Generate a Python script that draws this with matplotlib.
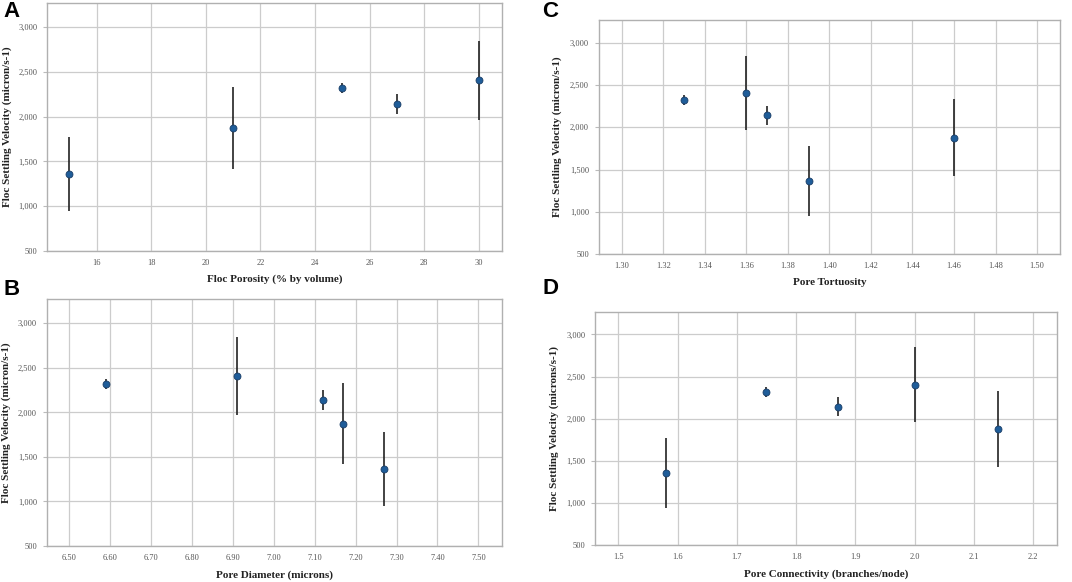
import matplotlib.pyplot as plt
from matplotlib.ticker import FuncFormatter, MultipleLocator

# settling velocity (micron/s) and its error, per floc sample
velocity = [1360, 1875, 2320, 2140, 2405]
velocity_err = [415, 455, 58, 112, 440]

porosity = [15, 21, 25, 27, 30]
diameter = [7.27, 7.17, 6.59, 7.12, 6.91]
tortuosity = [1.39, 1.46, 1.33, 1.37, 1.36]
connectivity = [1.58, 2.14, 1.75, 1.87, 2.00]

panels = [
    # letter, x data, xlabel, ylabel, xlim, xtick step, xtick format, axes rect, label coords
    ("A", porosity, "Floc Porosity (% by volume)",
     "Floc Settling Velocity (micron/s-1)", (14.18, 30.85), 2, "{:.0f}",
     [0.0438, 0.5687, 0.4244, 0.4261], (-0.088, -0.113)),
    ("B", diameter, "Pore Diameter (microns)",
     "Floc Settling Velocity (micron/s-1)", (6.445, 7.557), 0.1, "{:.2f}",
     [0.0436, 0.0619, 0.4244, 0.4239], (-0.089, -0.118)),
    ("C", tortuosity, "Pore Tortuosity",
     "Floc Settling Velocity (micron/s-1)", (1.289, 1.511), 0.02, "{:.2f}",
     [0.5585, 0.5636, 0.4303, 0.4021], (-0.091, -0.123)),
    ("D", connectivity, "Pore Connectivity (branches/node)",
     "Floc Settling Velocity (microns/s-1)", (1.4607, 2.2395), 0.1, "{:.1f}",
     [0.5550, 0.0636, 0.4307, 0.4009], (-0.089, -0.124)),
]

serif = ["Liberation Serif", "DejaVu Serif"]

fig = plt.figure(figsize=(10.72, 5.82), dpi=100)

for letter, xs, xlabel, ylabel, xlim, step, fmt, rect, lc in panels:
    ax = fig.add_axes(rect)
    ax.errorbar(xs, velocity, yerr=velocity_err, fmt="o", color="#1f5d99",
                markersize=5, markeredgecolor="#1a3d66", markeredgewidth=0.6,
                ecolor="#222222", elinewidth=1.2, capsize=0, zorder=3)
    ax.set_xlim(*xlim)
    ax.set_ylim(500, 3270)
    ax.xaxis.set_major_locator(MultipleLocator(step))
    ax.yaxis.set_major_locator(MultipleLocator(500))
    ax.xaxis.set_major_formatter(FuncFormatter(lambda v, p, f=fmt: f.format(v)))
    ax.yaxis.set_major_formatter(FuncFormatter(lambda v, p: f"{v:,.0f}"))
    ax.grid(True, color="#cccccc", linewidth=0.9)
    ax.set_axisbelow(True)
    for s in ax.spines.values():
        s.set_color("#b0b0b0")
        s.set_linewidth(1.0)
    ax.tick_params(axis="both", labelsize=6, colors="#bbbbbb",
                   labelcolor="#555555", length=3, width=0.8, pad=4)
    ax.tick_params(axis="x", length=0, pad=6)
    for lab in ax.get_xticklabels() + ax.get_yticklabels():
        lab.set_family(serif)
    ax.set_xlabel(xlabel, fontsize=8, fontweight="bold", family=serif,
                  color="#222222")
    ax.set_ylabel(ylabel, fontsize=8, fontweight="bold", family=serif,
                  color="#222222")
    ax.yaxis.set_label_coords(lc[0], 0.5)
    ax.xaxis.set_label_coords(0.5, lc[1])
    ax.xaxis.label.set_va("center")
    ax.yaxis.label.set_va("center")

# panel letters
letter_font = ["Liberation Sans", "DejaVu Sans"]
fig.text(0.003, 0.999, "A", fontsize=16, fontweight="bold", va="top", family=letter_font)
fig.text(0.003, 0.520, "B", fontsize=16, fontweight="bold", va="top", family=letter_font)
fig.text(0.506, 0.999, "C", fontsize=16, fontweight="bold", va="top", family=letter_font)
fig.text(0.506, 0.523, "D", fontsize=16, fontweight="bold", va="top", family=letter_font)

fig.savefig("out.png", dpi=100)
